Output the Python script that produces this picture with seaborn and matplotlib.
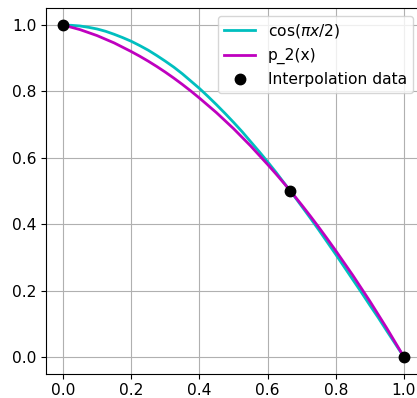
import matplotlib
matplotlib.use("Agg")
import matplotlib.pyplot as plt
import seaborn as sns
import pandas as pd

x_vals = [0.000, 0.025, 0.050, 0.075, 0.100, 0.125, 0.150, 0.175, 0.200, 0.225,
          0.250, 0.275, 0.300, 0.325, 0.350, 0.375, 0.400, 0.425, 0.450, 0.475,
          0.500, 0.525, 0.550, 0.575, 0.600, 0.625, 0.650, 0.675, 0.700, 0.725,
          0.750, 0.775, 0.800, 0.825, 0.850, 0.875, 0.900, 0.925, 0.950, 0.975, 1.000]
cos_vals = [1.000, 0.999, 0.997, 0.993, 0.988, 0.981, 0.972, 0.962, 0.951, 0.938,
            0.924, 0.908, 0.891, 0.873, 0.853, 0.831, 0.809, 0.785, 0.760, 0.734,
            0.707, 0.679, 0.649, 0.619, 0.588, 0.556, 0.522, 0.489, 0.454, 0.419,
            0.383, 0.346, 0.309, 0.271, 0.233, 0.195, 0.156, 0.118, 0.078, 0.039, 0.000]
p2_vals = [1.000, 0.993, 0.986, 0.977, 0.968, 0.957, 0.946, 0.933, 0.920, 0.906,
           0.891, 0.875, 0.858, 0.840, 0.821, 0.801, 0.780, 0.758, 0.736, 0.712,
           0.688, 0.662, 0.636, 0.608, 0.580, 0.551, 0.521, 0.490, 0.458, 0.425,
           0.391, 0.356, 0.320, 0.283, 0.246, 0.207, 0.168, 0.127, 0.086, 0.043, 0.000]
data_x = [0.0, 0.667, 1.0]
data_y = [1.0, 0.5, 0.0]

df = pd.DataFrame({"x": x_vals, "cos": cos_vals, "p2": p2_vals})
pts = pd.DataFrame({"x": data_x, "y": data_y})

fig = plt.figure(figsize=(4.17, 3.98), dpi=100)
ax = fig.add_axes([46 / 417, 1 - 373.6 / 398, 375 / 417, 365.2 / 398])

sns.lineplot(data=df, x="x", y="cos", ax=ax, color="c", lw=2, sort=False,
             label=r"cos($\pi x/2$)")
sns.lineplot(data=df, x="x", y="p2", ax=ax, color="m", lw=2, sort=False,
             label="p_2(x)")
ax.plot(pts["x"], pts["y"], "o", color="black", markersize=7.5,
        label="Interpolation data", zorder=5)

ax.set_xlim(-0.05, 1.05)
ax.set_ylim(-0.05, 1.05)
ax.set_xticks([0.0, 0.2, 0.4, 0.6, 0.8, 1.0])
ax.set_yticks([0.0, 0.2, 0.4, 0.6, 0.8, 1.0])
ax.tick_params(labelsize=11.2)
ax.grid(True, color="#b0b0b0", lw=0.8)
ax.set_xlabel("")
ax.set_ylabel("")
ax.legend(loc="upper right", fontsize=11.2)

fig.savefig("out.png", dpi=100)
